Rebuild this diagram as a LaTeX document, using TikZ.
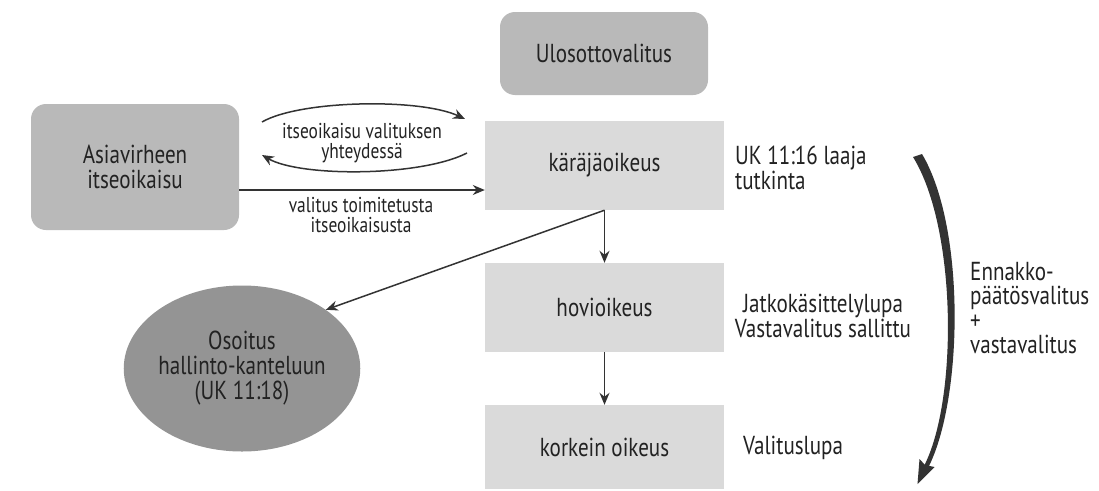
\documentclass[tikz,border=0pt]{standalone}
\usepackage{fontspec}
\setmainfont{PT Sans}[FakeStretch=0.81]
\usetikzlibrary{arrows.meta,shapes.geometric}
\definecolor{txt}{HTML}{222222}
\definecolor{ln}{HTML}{333333}
\definecolor{topbox}{HTML}{B9B9B9}
\definecolor{court}{HTML}{DADADA}
\definecolor{ellc}{HTML}{949494}
\begin{document}
\begin{tikzpicture}[x=1pt,y=-1pt,
  every node/.style={text=txt, font=\fontsize{26}{25}\selectfont},
  roundbox/.style={fill=topbox, rounded corners=15pt, inner sep=0pt, align=center},
  courtbox/.style={fill=court, inner sep=0pt, minimum width=239pt, align=center},
  lbl/.style={font=\fontsize{21.5}{20}\selectfont, align=center, inner sep=0pt},
  side/.style={inner sep=0pt, align=left},
  conn/.style={draw=ln, line width=1.5pt, -{Stealth[length=12pt,width=10pt]}}
]
\useasboundingbox (0,0) rectangle (1099,490);
\fill[white] (0,0) rectangle (1099,490);

\node[roundbox, minimum width=208pt, minimum height=83pt] (ulos) at (604,53.5) {Ulosottovalitus};
\node[roundbox, minimum width=208pt, minimum height=126pt] (asia) at (135,167) {Asiavirheen\\itseoikaisu};
\node[courtbox, minimum height=89pt] (kara) at (604.5,165.5) {käräjäoikeus};
\node[courtbox, minimum height=89pt] (hovi) at (604.5,307.5) {hovioikeus};
\node[courtbox, minimum height=84pt] (ko) at (604.5,447) {korkein oikeus};
\node[ellipse, fill=ellc, minimum width=226pt, minimum height=166pt, inner sep=0pt, align=center] (ell) at (242,368.5) {Osoitus\\hallinto-kanteluun\\(UK 11:18)};

\node[side, anchor=west] (uk) at (735,168) {UK 11:16 laaja\\tutkinta};
\node[inner sep=0pt, align=center] (jatko) at (823,316) {Jatkokäsittelylupa\\Vastavalitus sallittu};
\node[side, anchor=west] (vl) at (743,448) {Valituslupa};
\node[side, anchor=west, font=\fontsize{26}{24.5}\selectfont] (enn) at (970,308) {Ennakko-\\päätösvalitus\\+\\vastavalitus};

\node[lbl] (l1) at (362,143) {itseoikaisu valituksen\\yhteydessä};
\node[lbl] (l2) at (361,215) {valitus toimitetusta\\itseoikaisusta};

% curved arrows
\coordinate (c1s) at (262,122);
\coordinate (c1e) at (465,119);
\coordinate (c2s) at (467,153);
\coordinate (c2e) at (262,155);
\draw[conn] (c1s) .. controls (300,100) and (420,98) .. (c1e);
\draw[conn] (c2s) .. controls (420,177) and (300,177) .. (c2e);

\coordinate (lvl) at (0,190);
\draw[conn] (asia.east |- lvl) -- (kara.west |- lvl);
\draw[conn] (kara.south) -- (ell.35);
\draw[conn] (kara.south) -- (hovi.north);
\draw[conn] (hovi.south) -- (ko.north);

% big curved arrow
\fill[ln] (913,157) .. controls (957,228) and (958,400) .. (924,466)
  -- (928,468) .. controls (963,400) and (966,228) .. (922,154) -- cycle;
\fill[ln] (917.5,484) -- (919.5,459) -- (925,465) -- (934.5,467) -- cycle;
\end{tikzpicture}
\end{document}
